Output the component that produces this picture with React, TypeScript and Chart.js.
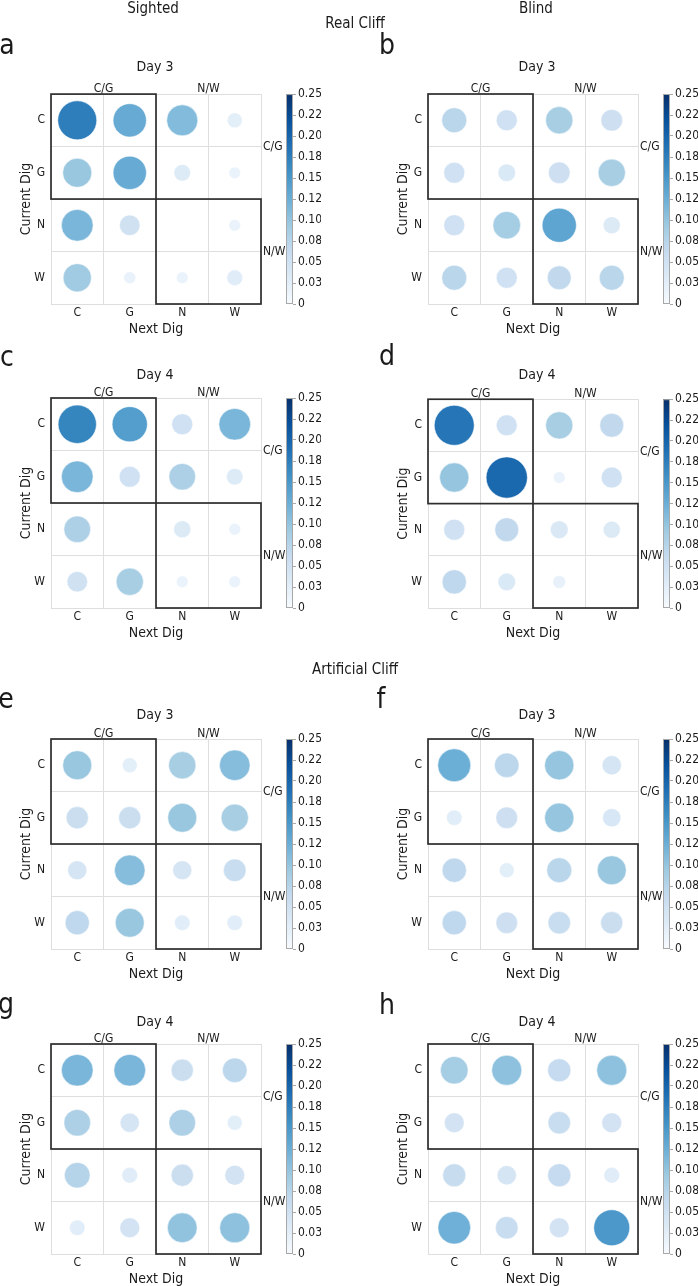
import React, { useEffect, useRef } from 'react';
import { Chart, registerables } from 'chart.js';

Chart.register(...registerables);

const FONT = "'Liberation Sans Narrow', 'DejaVu Sans Condensed', 'Roboto Condensed', 'Liberation Sans', sans-serif";

// ---------- data ----------
const rowLabels = ['C', 'G', 'N', 'W'];
const colLabels = ['C', 'G', 'N', 'W'];
const groupLabels = ['C/G', 'N/W'];
const groupBounds = [0, 2, 4];
const colorbarValues = [0, 0.025, 0.05, 0.075, 0.1, 0.125, 0.15, 0.175, 0.2, 0.225, 0.25];
const colorbarLabels = ['0', '0.03', '0.05', '0.08', '0.10', '0.12', '0.15', '0.18', '0.20', '0.22', '0.25'];
const VMAX = 0.25;

// rows = current dig (C, G, N, W), columns = next dig (C, G, N, W)
const realSightedDay3 = [
  [0.175, 0.128, 0.111, 0.026],
  [0.097, 0.128, 0.032, 0.016],
  [0.116, 0.049, 0.0, 0.016],
  [0.092, 0.017, 0.016, 0.029],
];
const realBlindDay3 = [
  [0.072, 0.051, 0.086, 0.054],
  [0.051, 0.036, 0.054, 0.086],
  [0.051, 0.088, 0.135, 0.034],
  [0.072, 0.051, 0.066, 0.072],
];
const realSightedDay4 = [
  [0.169, 0.143, 0.051, 0.116],
  [0.116, 0.051, 0.082, 0.032],
  [0.082, 0.0, 0.034, 0.016],
  [0.049, 0.086, 0.016, 0.016],
];
const realBlindDay4 = [
  [0.184, 0.051, 0.086, 0.066],
  [0.099, 0.196, 0.016, 0.051],
  [0.051, 0.066, 0.037, 0.034],
  [0.068, 0.036, 0.019, 0.0],
];
const artSightedDay3 = [
  [0.097, 0.026, 0.086, 0.108],
  [0.057, 0.057, 0.097, 0.086],
  [0.042, 0.108, 0.042, 0.059],
  [0.068, 0.097, 0.028, 0.028],
];
const artBlindDay3 = [
  [0.125, 0.07, 0.099, 0.043],
  [0.028, 0.054, 0.099, 0.039],
  [0.068, 0.026, 0.072, 0.097],
  [0.068, 0.054, 0.059, 0.057],
];
const artSightedDay4 = [
  [0.116, 0.116, 0.057, 0.07],
  [0.082, 0.043, 0.082, 0.026],
  [0.076, 0.029, 0.057, 0.046],
  [0.028, 0.046, 0.102, 0.104],
];
const artBlindDay4 = [
  [0.088, 0.104, 0.062, 0.104],
  [0.046, 0.0, 0.059, 0.046],
  [0.061, 0.043, 0.062, 0.029],
  [0.123, 0.059, 0.046, 0.149],
];

// ---------- colour map (matplotlib "Blues") ----------
const BLUES = ['#f7fbff', '#deebf7', '#c6dbef', '#9ecae1', '#6baed6', '#4292c6', '#2171b5', '#08519c', '#08306b'];
function hexRgb(h: string) {
  return [parseInt(h.slice(1, 3), 16), parseInt(h.slice(3, 5), 16), parseInt(h.slice(5, 7), 16)];
}
function blues(t: number) {
  const tt = Math.max(0, Math.min(1, t)) * (BLUES.length - 1);
  const i = Math.min(BLUES.length - 2, Math.floor(tt));
  const f = tt - i;
  const a = hexRgb(BLUES[i]);
  const b = hexRgb(BLUES[i + 1]);
  const c = a.map((v, k) => Math.round(v + (b[k] - v) * f));
  return `rgb(${c[0]},${c[1]},${c[2]})`;
}

// ---------- layout ----------
const CW = 321;
const LEFT_W = 51;
const RIGHT_LAB_W = 32;
const CB_W = 28;
const TOP_H = 20;
const BOTTOM_H = 36;
const PLOT = 210;
const CH = TOP_H + PLOT + BOTTOM_H;
const BAR_W = 7;

const overlayPlugin = {
  id: 'overlay',
  afterDatasetsDraw(chart: any) {
    const { ctx } = chart;
    const xs = chart.scales.x;
    const ys = chart.scales.y;
    const cb = chart.scales.cb;
    ctx.save();
    // group boxes
    ctx.strokeStyle = '#2e2e2e';
    ctx.lineWidth = 1.7;
    for (let g = 0; g < groupBounds.length - 1; g++) {
      const x0 = xs.getPixelForValue(groupBounds[g]);
      const x1 = xs.getPixelForValue(groupBounds[g + 1]);
      const y0 = ys.getPixelForValue(groupBounds[g]);
      const y1 = ys.getPixelForValue(groupBounds[g + 1]);
      ctx.strokeRect(Math.min(x0, x1), Math.min(y0, y1), Math.abs(x1 - x0), Math.abs(y1 - y0));
    }
    // colour bar
    const top = cb.getPixelForValue(VMAX);
    const bottom = cb.getPixelForValue(0);
    const grad = ctx.createLinearGradient(0, bottom, 0, top);
    BLUES.forEach((c, i) => grad.addColorStop(i / (BLUES.length - 1), c));
    ctx.fillStyle = grad;
    ctx.fillRect(cb.left - BAR_W, top, BAR_W, bottom - top);
    ctx.strokeStyle = '#a8a8a8';
    ctx.lineWidth = 1;
    ctx.strokeRect(cb.left - BAR_W + 0.5, top + 0.5, BAR_W - 1, bottom - top - 1);
    ctx.restore();
  },
};

function centerTicks(s: any) {
  s.ticks = [0.5, 1.5, 2.5, 3.5].map((v) => ({ value: v }));
}
function groupTicks(s: any) {
  s.ticks = [1, 3].map((v) => ({ value: v }));
}

function makeConfig(values: number[][]): any {
  const data: any[] = [];
  values.forEach((row, r) =>
    row.forEach((v, c) => {
      if (v > 0) data.push({ x: c + 0.5, y: r + 0.5, v });
    })
  );
  const tickFont = { family: FONT, size: 12 };
  const titleFont = { family: FONT, size: 14 };
  return {
    type: 'bubble',
    data: {
      datasets: [
        {
          data,
          backgroundColor: (ctx: any) => (ctx.raw ? blues(ctx.raw.v / VMAX) : '#fff'),
          borderColor: 'rgba(255,255,255,0.9)',
          borderWidth: 0.6,
          radius: (ctx: any) => {
            if (!ctx.raw) return 0;
            const ca = ctx.chart.chartArea;
            const cell = ca ? ca.width / 4 : PLOT / 4;
            return cell * 0.8876 * Math.sqrt(ctx.raw.v);
          },
        },
      ],
    },
    options: {
      responsive: false,
      animation: false,
      events: [],
      layout: { padding: 0 },
      plugins: { legend: { display: false }, tooltip: { enabled: false }, title: { display: false } },
      scales: {
        x: {
          type: 'linear',
          position: 'bottom',
          min: 0,
          max: 4,
          afterBuildTicks: centerTicks,
          afterFit: (s: any) => {
            s.height = BOTTOM_H;
          },
          ticks: {
            autoSkip: false,
            maxRotation: 0,
            padding: 2,
            font: tickFont,
            color: '#1a1a1a',
            callback: (_v: any, i: number) => colLabels[i],
          },
          grid: { offset: true, color: '#dedede', lineWidth: 1, drawTicks: false },
          border: { display: false },
          title: { display: true, text: 'Next Dig', font: titleFont, color: '#1a1a1a', padding: { top: 0, bottom: 2 } },
        },
        y: {
          type: 'linear',
          position: 'left',
          min: 0,
          max: 4,
          reverse: true,
          afterBuildTicks: centerTicks,
          afterFit: (s: any) => {
            s.width = LEFT_W;
          },
          ticks: {
            autoSkip: false,
            padding: 6,
            font: tickFont,
            color: '#1a1a1a',
            callback: (_v: any, i: number) => rowLabels[i],
          },
          grid: { offset: true, color: '#dedede', lineWidth: 1, drawTicks: false },
          border: { display: false },
          title: { display: true, text: 'Current Dig', font: titleFont, color: '#1a1a1a', padding: { top: 18, bottom: 0 } },
        },
        xt: {
          type: 'linear',
          position: 'top',
          min: 0,
          max: 4,
          afterBuildTicks: groupTicks,
          afterFit: (s: any) => {
            s.height = TOP_H;
          },
          ticks: {
            autoSkip: false,
            maxRotation: 0,
            padding: -2,
            font: tickFont,
            color: '#1a1a1a',
            callback: (_v: any, i: number) => groupLabels[i],
          },
          grid: { display: false, drawTicks: false },
          border: { display: false },
        },
        yr: {
          type: 'linear',
          position: 'right',
          weight: 0,
          min: 0,
          max: 4,
          reverse: true,
          afterBuildTicks: groupTicks,
          afterFit: (s: any) => {
            s.width = RIGHT_LAB_W;
          },
          ticks: {
            autoSkip: false,
            padding: 2,
            font: tickFont,
            color: '#1a1a1a',
            callback: (_v: any, i: number) => groupLabels[i],
          },
          grid: { display: false, drawTicks: false },
          border: { display: false },
        },
        cb: {
          type: 'linear',
          position: 'right',
          weight: 1,
          min: 0,
          max: VMAX,
          afterBuildTicks: (s: any) => {
            s.ticks = colorbarValues.map((v) => ({ value: v }));
          },
          afterFit: (s: any) => {
            s.width = CB_W;
          },
          ticks: {
            autoSkip: false,
            padding: 2,
            font: tickFont,
            color: '#1a1a1a',
            callback: (_v: any, i: number) => colorbarLabels[i],
          },
          grid: { drawOnChartArea: false, drawTicks: true, tickLength: 3, color: '#a8a8a8', lineWidth: 1 },
          border: { display: false },
        },
      },
    },
    plugins: [overlayPlugin],
  };
}

function Panel({ values, left, top }: { values: number[][]; left: number; top: number }) {
  const ref = useRef<HTMLCanvasElement | null>(null);
  useEffect(() => {
    if (!ref.current) return;
    const chart = new Chart(ref.current, makeConfig(values));
    return () => chart.destroy();
  }, [values]);
  return (
    <canvas
      ref={ref}
      width={CW}
      height={CH}
      style={{ position: 'absolute', left, top, width: CW, height: CH }}
    />
  );
}

const panels = [
  { values: realSightedDay3, left: 0, top: 74 },
  { values: realBlindDay3, left: 377, top: 74 },
  { values: realSightedDay4, left: 0, top: 378 },
  { values: realBlindDay4, left: 377, top: 378 },
  { values: artSightedDay3, left: 0, top: 719 },
  { values: artBlindDay3, left: 377, top: 719 },
  { values: artSightedDay4, left: 0, top: 1024 },
  { values: artBlindDay4, left: 377, top: 1024 },
];

const headers = [
  { text: 'Sighted', x: 153, y: 13, size: 15 },
  { text: 'Blind', x: 536, y: 13, size: 15 },
  { text: 'Real Cliff', x: 355, y: 28, size: 15 },
  { text: 'Artificial Cliff', x: 355, y: 674, size: 15 },
];
const letters = [
  { text: 'a', x: 7, y: 54 },
  { text: 'b', x: 387, y: 54 },
  { text: 'c', x: 7, y: 366 },
  { text: 'd', x: 387, y: 365 },
  { text: 'e', x: 6, y: 708 },
  { text: 'f', x: 381, y: 708 },
  { text: 'g', x: 6, y: 1013 },
  { text: 'h', x: 387, y: 1014 },
];
const dayTitles = [
  { text: 'Day 3', x: 155, y: 71 },
  { text: 'Day 3', x: 537, y: 71 },
  { text: 'Day 4', x: 155, y: 379 },
  { text: 'Day 4', x: 537, y: 379 },
  { text: 'Day 3', x: 155, y: 719 },
  { text: 'Day 3', x: 537, y: 719 },
  { text: 'Day 4', x: 155, y: 1026 },
  { text: 'Day 4', x: 537, y: 1026 },
];

export default function App() {
  return (
    <div style={{ position: 'absolute', left: 0, top: 0, width: 698, height: 1286, background: '#fff', overflow: 'hidden' }}>
      {panels.map((p, i) => (
        <Panel key={i} values={p.values} left={p.left} top={p.top} />
      ))}
      <svg
        width={698}
        height={1286}
        style={{ position: 'absolute', left: 0, top: 0, pointerEvents: 'none' }}
        fontFamily={FONT}
      >
        {headers.map((h, i) => (
          <text key={'h' + i} x={h.x} y={h.y} fontSize={h.size} textAnchor="middle" fill="#1a1a1a">
            {h.text}
          </text>
        ))}
        {letters.map((l, i) => (
          <text key={'l' + i} x={l.x} y={l.y} fontSize={28} textAnchor="middle" fill="#1a1a1a">
            {l.text}
          </text>
        ))}
        {dayTitles.map((d, i) => (
          <text key={'d' + i} x={d.x} y={d.y} fontSize={14} textAnchor="middle" fill="#1a1a1a">
            {d.text}
          </text>
        ))}
      </svg>
    </div>
  );
}
